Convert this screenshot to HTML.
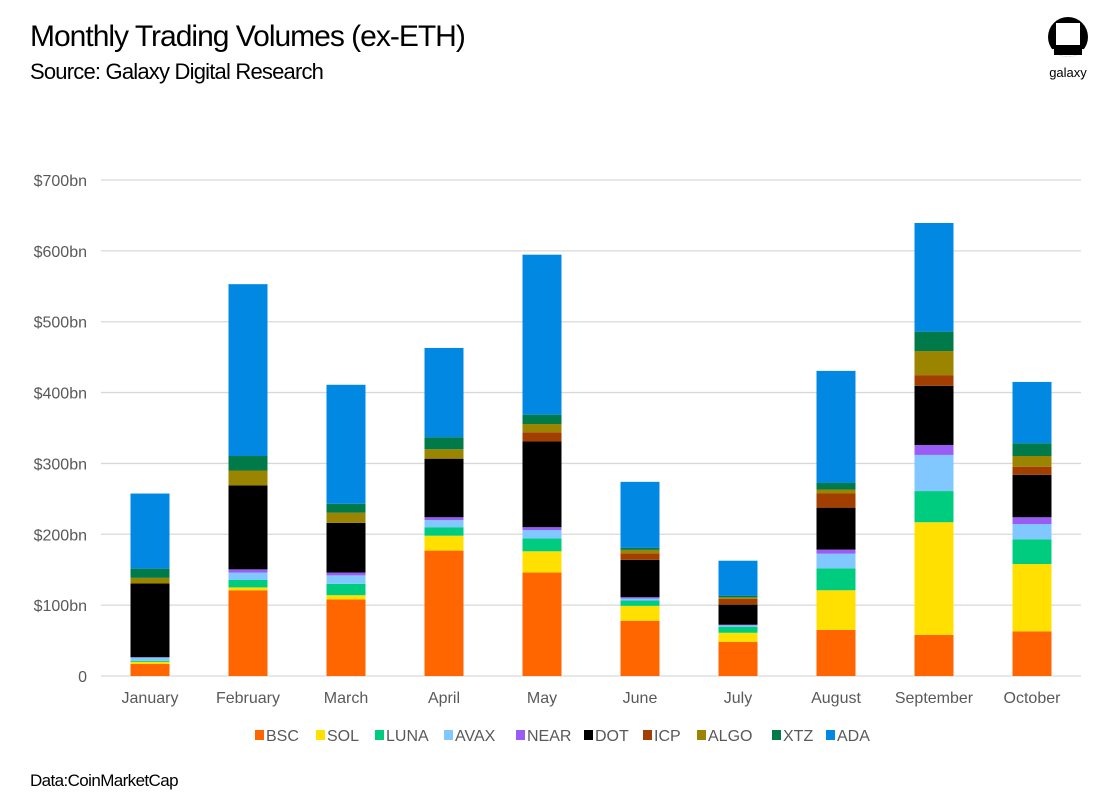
<!DOCTYPE html>
<html><head><meta charset="utf-8"><style>
body{margin:0;background:#fff;}
#wrap{position:relative;width:1100px;height:805px;background:#fff;font-family:"Liberation Sans",sans-serif;overflow:hidden}
svg text{font-family:"Liberation Sans",sans-serif}
</style></head><body>
<div id="wrap">
<svg id="chart" width="1100" height="805" xmlns="http://www.w3.org/2000/svg">
<text x="30" y="46" font-size="30" fill="#000" letter-spacing="-1">Monthly Trading Volumes (ex-ETH)</text>
<text x="30" y="79" font-size="22" fill="#000" letter-spacing="-0.8">Source: Galaxy Digital Research</text>
<g>
<clipPath id="lc"><circle cx="1068" cy="37" r="20"/></clipPath>
<circle cx="1068" cy="37" r="20" fill="#000"/>
<rect x="1056" y="23" width="24" height="22" fill="#fff"/>
<rect x="1048" y="49" width="40" height="10" fill="#fff" clip-path="url(#lc)"/>
<rect x="1054" y="49" width="28" height="6" fill="#000"/>
<text x="1068" y="77" font-size="13" text-anchor="middle" fill="#000">galaxy</text>
</g>
<g id="grid"></g>
<g id="yticks"></g>
<g id="bars"></g>
<g id="xticks"></g>
<g id="legend"></g>
<text x="30" y="786" font-size="17" fill="#000" letter-spacing="-0.6">Data:CoinMarketCap</text>
</svg>
</div>
<script>
const categories=["January","February","March","April","May","June","July","August","September","October"];
const seriesNames=["BSC","SOL","LUNA","AVAX","NEAR","DOT","ICP","ALGO","XTZ","ADA"];
const BSC=[17,121,108,177,146,78,48,65,58,63];
const SOL=[3,4,6,21,30,21,13,56,159,95];
const LUNA=[1.5,10.5,16,12,18,7.5,8.6,31,44,35];
const AVAX=[4.5,10.5,12,10,12,2.7,1.9,20.6,51,21.5];
const NEAR=[0.5,4.5,4,4,4,2,0.9,5.8,14,9.5];
const DOT=[104,118.5,70,82.7,121,52.7,28.3,59.2,83.6,60];
const ICP=[0,0,0,0,13,9.3,8.3,20,15,11.4];
const ALGO=[8,21,14.5,13.3,11.6,4.8,2,5.5,34,15.1];
const XTZ=[13,20.5,12.5,17,13.2,2.8,2,9.3,27.4,17.9];
const ADA=[106,242.5,168,126,225.8,93.2,49.7,158.2,153.3,86.6];
const yTicks=[0,100,200,300,400,500,600,700];
const yTickLabels=["0","$100bn","$200bn","$300bn","$400bn","$500bn","$600bn","$700bn"];
const colors=["#ff6600","#ffe000","#00cc80","#80c8ff","#9a5cf5","#000000","#a23f00","#9a8400","#007a48","#0088e2"];
const series=[BSC,SOL,LUNA,AVAX,NEAR,DOT,ICP,ALGO,XTZ,ADA];
const NS="http://www.w3.org/2000/svg";
const plotL=101,plotW=980,y0=676,y700=180;
function yScale(v){return y0-(v/700)*(y0-y700);}
function xCenter(i){return plotL+plotW/categories.length*(i+0.5);}
function mk(tag,attrs,parent){const e=document.createElementNS(NS,tag);for(const k in attrs)e.setAttribute(k,attrs[k]);parent.appendChild(e);return e;}
const grid=document.getElementById('grid'),yt=document.getElementById('yticks'),bars=document.getElementById('bars'),xt=document.getElementById('xticks'),lg=document.getElementById('legend');
yTicks.forEach((t,i)=>{
 const l=mk('line',{x1:plotL,x2:plotL+plotW,y1:yScale(t),y2:yScale(t),stroke:'#d9d9d9','stroke-width':1.3},grid);
 
 
 const tx=mk('text',{x:87,y:yScale(t)+6,'font-size':16,'text-anchor':'end',fill:'#595959'},yt);
 tx.textContent=yTickLabels[i];
 
 
});
categories.forEach((c,i)=>{
 let cum=0;const cx=xCenter(i);
 series.forEach((s,j)=>{
  const v=s[i];if(v<=0)return;
  const yT=yScale(cum+v),yB=yScale(cum);
  const r=mk('rect',{x:cx-19.5,y:yT,width:39,height:yB-yT,fill:colors[j]},bars);
  
  
  cum+=v;
 });
 const tx=mk('text',{x:cx,y:703,'font-size':16,'text-anchor':'middle',fill:'#595959'},xt);
 tx.textContent=c;
 
 
});
const legX=[255,316,375,444,516,584,643,697,772,826];
seriesNames.forEach((n,j)=>{
 const g=mk('g',{},lg);
 
 
 mk('rect',{x:legX[j],y:730,width:9,height:10,fill:colors[j]},g);
 const t=mk('text',{x:legX[j]+11,y:741,'font-size':16,fill:'#595959'},g);
 t.textContent=n;
});
</script>
</body></html>
